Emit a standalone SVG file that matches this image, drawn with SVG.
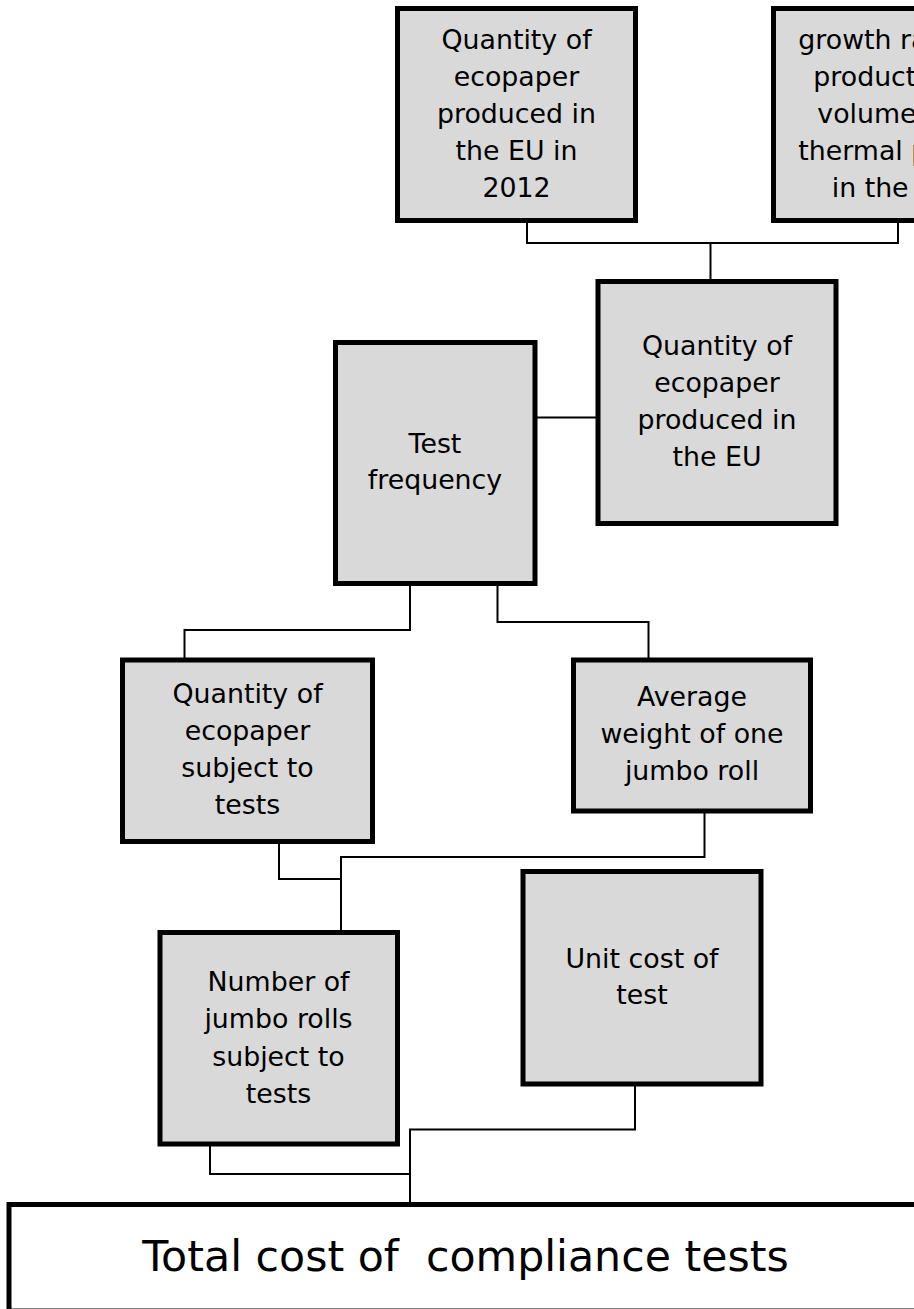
<svg xmlns="http://www.w3.org/2000/svg" width="914" height="1309" viewBox="0 0 914 1309">
<style>
.box{fill:#d9d9d9;stroke:#000;stroke-width:5}
.total{fill:#fff;stroke:#000;stroke-width:5}
.t{font-family:"DejaVu Sans","Verdana",sans-serif;font-size:26.8px;fill:#000;text-anchor:middle}
.ts{font-family:"DejaVu Sans","Verdana",sans-serif;font-size:26.8px;fill:#000;text-anchor:start}
.big{font-family:"DejaVu Sans","Verdana",sans-serif;font-size:42.7px;fill:#000;text-anchor:middle}
.c{fill:none;stroke:#000;stroke-width:2}
</style>
<rect width="914" height="1309" fill="#fff"/>
<g id="connectors">
<polyline class="c" points="527,223 527,243 898,243 898,223"/>
<line class="c" x1="710.5" y1="243" x2="710.5" y2="280"/>
<line class="c" x1="537" y1="417.5" x2="596" y2="417.5"/>
<polyline class="c" points="410,586 410,630 184.5,630 184.5,658"/>
<polyline class="c" points="497.5,586 497.5,622 648.5,622 648.5,658"/>
<polyline class="c" points="279,844 279,879 341,879"/>
<polyline class="c" points="704.5,813 704.5,857 341,857 341,931"/>
<polyline class="c" points="210,1146 210,1174 410,1174"/>
<polyline class="c" points="635,1086 635,1129.5 410,1129.5 410,1203"/>
</g>
<g id="n-eu2012">
<rect class="box" x="397.5" y="8.5" width="238" height="212"/>
<text class="t" x="516.5" y="48.5">Quantity of</text>
<text class="t" x="516.5" y="85.7">ecopaper</text>
<text class="t" x="516.5" y="122.9">produced in</text>
<text class="t" x="516.5" y="160.1">the EU in</text>
<text class="t" x="516.5" y="197.3">2012</text>
</g>
<g id="n-growth">
<rect class="box" x="773.5" y="8.5" width="240" height="212"/>
<text class="ts" x="798.3" y="48.5">growth ra</text>
<text class="ts" x="813.3" y="85.7">product</text>
<text class="ts" x="817.3" y="122.9">volume</text>
<text class="ts" x="798.3" y="160.1">thermal p</text>
<text class="ts" x="831.7" y="197.3">in the</text>
</g>
<g id="n-eu">
<rect class="box" x="598" y="281.5" width="238" height="242"/>
<text class="t" x="717" y="355">Quantity of</text>
<text class="t" x="717" y="392">ecopaper</text>
<text class="t" x="717" y="429">produced in</text>
<text class="t" x="717" y="466">the EU</text>
</g>
<g id="n-freq">
<rect class="box" x="335.5" y="342.5" width="199.5" height="241"/>
<text class="t" x="435" y="452.5">Test</text>
<text class="t" x="435" y="489.3">frequency</text>
</g>
<g id="n-subject">
<rect class="box" x="122.5" y="660" width="250" height="181.5"/>
<text class="t" x="247.5" y="703">Quantity of</text>
<text class="t" x="247.5" y="740">ecopaper</text>
<text class="t" x="247.5" y="777">subject to</text>
<text class="t" x="247.5" y="813.5">tests</text>
</g>
<g id="n-weight">
<rect class="box" x="573.5" y="660" width="237" height="151"/>
<text class="t" x="692" y="705.7">Average</text>
<text class="t" x="692" y="743">weight of one</text>
<text class="t" x="692" y="780">jumbo roll</text>
</g>
<g id="n-rolls">
<rect class="box" x="160" y="932.5" width="237.5" height="211.5"/>
<text class="t" x="278.5" y="990.7">Number of</text>
<text class="t" x="278.5" y="1028.3">jumbo rolls</text>
<text class="t" x="278.5" y="1066">subject to</text>
<text class="t" x="278.5" y="1103.3">tests</text>
</g>
<g id="n-unit">
<rect class="box" x="523" y="871.5" width="238" height="212.5"/>
<text class="t" x="642" y="968.3">Unit cost of</text>
<text class="t" x="642" y="1004">test</text>
</g>
<g id="n-total">
<rect class="total" x="9" y="1204.5" width="1000" height="106.5"/>
<text class="big" x="465.5" y="1271" xml:space="preserve">Total cost of  compliance tests</text>
</g>
</svg>
